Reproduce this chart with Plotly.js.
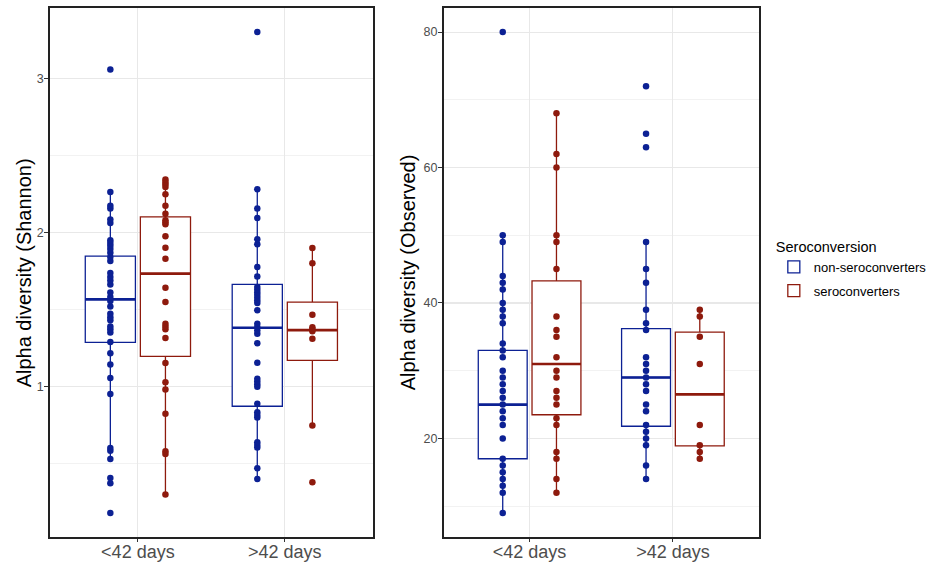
<!DOCTYPE html>
<html><head><meta charset="utf-8">
<script src="https://cdn.plot.ly/plotly-3.0.1.min.js"></script>
<style>html,body{margin:0;padding:0;background:#fff}#chart{width:932px;height:565px}</style>
</head><body><div id="chart"></div>
<script>
// ---------- data ----------
const categories = ['<42 days', '>42 days'];
const seriesNames = ['non-seroconverters', 'seroconverters'];
const yTitles = ['Alpha diversity (Shannon)', 'Alpha diversity (Observed)'];

// Shannon: individual samples
const shannonNonLt = [3.056, 2.262, 2.173, 2.154, 2.084, 2.061, 1.948, 1.931, 1.913, 1.892, 1.868, 1.840, 1.814, 1.736, 1.710, 1.688, 1.662, 1.610, 1.580, 1.554, 1.519, 1.472, 1.450, 1.429, 1.390, 1.372, 1.351, 1.288, 1.216, 1.143, 1.056, 0.952, 0.602, 0.584, 0.530, 0.406, 0.372, 0.180];
const shannonNonGt = [3.299, 2.279, 2.154, 2.093, 1.955, 1.922, 1.775, 1.714, 1.645, 1.628, 1.610, 1.593, 1.576, 1.558, 1.541, 1.494, 1.407, 1.385, 1.364, 1.342, 1.281, 1.154, 1.050, 1.032, 1.015, 0.998, 0.888, 0.833, 0.816, 0.799, 0.638, 0.621, 0.604, 0.470, 0.400];
const shannonSeroLt = [2.342, 2.327, 2.312, 2.294, 2.247, 2.173, 2.121, 2.078, 2.065, 2.052, 1.974, 1.900, 1.829, 1.641, 1.548, 1.407, 1.390, 1.372, 1.314, 1.152, 1.028, 0.981, 0.823, 0.580, 0.563, 0.299];
const shannonSeroGt = [1.898, 1.799, 1.466, 1.385, 1.372, 1.359, 1.310, 0.747, 0.379];

// Shannon: box statistics per category [<42, >42]
const shannonNonQ1 = [1.286, 0.872];
const shannonNonMed = [1.565, 1.381];
const shannonNonQ3 = [1.846, 1.662];
const shannonNonLo = [0.530, 0.400];
const shannonNonHi = [2.262, 2.279];
const shannonSeroQ1 = [1.195, 1.169];
const shannonSeroMed = [1.732, 1.366];
const shannonSeroQ3 = [2.100, 1.548];
const shannonSeroLo = [0.299, 0.747];
const shannonSeroHi = [2.342, 1.898];

// Observed: individual samples
const observedNonLt = [80, 50, 49, 44, 43, 42, 40, 39, 38, 37, 34, 33, 32, 30, 29, 28, 27, 26, 25, 24, 23, 22, 20, 17, 16, 15, 14, 13, 12, 9];
const observedNonGt = [72, 65, 63, 49, 45, 43, 39, 37, 36, 32, 31, 30, 29, 28, 27, 25, 24, 22, 21, 20, 19, 16, 14];
const observedSeroLt = [68, 62, 60, 50, 49, 45, 38, 36, 35, 32, 30, 29, 27, 26, 25, 23, 22, 18, 17, 14, 12];
const observedSeroGt = [39, 38, 35, 31, 22, 19, 18, 17];

// Observed: box statistics per category [<42, >42]
const observedNonQ1 = [17, 21.8];
const observedNonMed = [25, 29];
const observedNonQ3 = [33, 36.2];
const observedNonLo = [9, 14];
const observedNonHi = [50, 49];
const observedSeroQ1 = [23.5, 18.9];
const observedSeroMed = [31, 26.5];
const observedSeroQ3 = [43.25, 35.7];
const observedSeroLo = [12, 17];
const observedSeroHi = [68, 39];

// ---------- styling ----------
const BLUE = '#0c2194';
const RED = '#8e1a0d';
const FONT = 'Liberation Sans, Arial, Helvetica, sans-serif';

function statBox(xa, ya, name, color, q1, med, q3, lo, hi, showlegend) {
  return {type: 'box', x: categories, q1: q1, median: med, q3: q3, lowerfence: lo, upperfence: hi,
    name: name, legendgroup: name, offsetgroup: name, showlegend: showlegend, xaxis: xa, yaxis: ya,
    line: {color: color, width: 1.3}, fillcolor: 'white', boxpoints: false, whiskerwidth: 0, hoverinfo: 'skip'};
}
function medianBox(xa, ya, name, color, med) {
  return {type: 'box', x: categories, q1: med, median: med, q3: med, lowerfence: med, upperfence: med,
    name: name, legendgroup: name, offsetgroup: name, showlegend: false, xaxis: xa, yaxis: ya,
    line: {color: color, width: 2.6}, fillcolor: 'rgba(0,0,0,0)', boxpoints: false, whiskerwidth: 0, hoverinfo: 'skip'};
}
function pointBox(xa, ya, name, color, lt, gt) {
  const xs = lt.map(() => categories[0]).concat(gt.map(() => categories[1]));
  return {type: 'box', x: xs, y: lt.concat(gt), name: name, legendgroup: name, offsetgroup: name, showlegend: false,
    xaxis: xa, yaxis: ya, boxpoints: 'all', jitter: 0, pointpos: 0,
    line: {color: color, width: 0}, fillcolor: 'rgba(0,0,0,0)', whiskerwidth: 0,
    marker: {color: color, size: 6.5, line: {width: 0}}};
}

const traces = [
  statBox('x', 'y', seriesNames[0], BLUE, shannonNonQ1, shannonNonMed, shannonNonQ3, shannonNonLo, shannonNonHi, true),
  statBox('x', 'y', seriesNames[1], RED, shannonSeroQ1, shannonSeroMed, shannonSeroQ3, shannonSeroLo, shannonSeroHi, true),
  medianBox('x', 'y', seriesNames[0], BLUE, shannonNonMed),
  medianBox('x', 'y', seriesNames[1], RED, shannonSeroMed),
  pointBox('x', 'y', seriesNames[0], BLUE, shannonNonLt, shannonNonGt),
  pointBox('x', 'y', seriesNames[1], RED, shannonSeroLt, shannonSeroGt),
  statBox('x2', 'y2', seriesNames[0], BLUE, observedNonQ1, observedNonMed, observedNonQ3, observedNonLo, observedNonHi, false),
  statBox('x2', 'y2', seriesNames[1], RED, observedSeroQ1, observedSeroMed, observedSeroQ3, observedSeroLo, observedSeroHi, false),
  medianBox('x2', 'y2', seriesNames[0], BLUE, observedNonMed),
  medianBox('x2', 'y2', seriesNames[1], RED, observedSeroMed),
  pointBox('x2', 'y2', seriesNames[0], BLUE, observedNonLt, observedNonGt),
  pointBox('x2', 'y2', seriesNames[1], RED, observedSeroLt, observedSeroGt)
];

function xAxis(domain, anchor) {
  return {domain: domain, anchor: anchor, type: 'category', range: [-0.6, 1.6],
    showgrid: true, gridcolor: '#e8e8e8', gridwidth: 1.1, zeroline: false,
    showline: true, mirror: true, linecolor: '#222', linewidth: 1.6,
    ticks: 'outside', ticklen: 3, tickcolor: '#333', tickwidth: 1,
    ticklabelstandoff: -5,
    tickfont: {size: 18, color: '#4d4d4d', family: FONT}};
}
function yAxis(domain, anchor, range, dtick) {
  return {domain: domain, anchor: anchor, range: range, tick0: 0, dtick: dtick,
    showgrid: true, gridcolor: '#e8e8e8', gridwidth: 1.1, zeroline: false,
    minor: {dtick: dtick / 2, tick0: 0, showgrid: true, gridcolor: '#efefef', gridwidth: 0.8, ticks: ''},
    showline: true, mirror: true, linecolor: '#222', linewidth: 1.6,
    ticks: 'outside', ticklen: 4, tickcolor: '#333', tickwidth: 1,
    ticklabelstandoff: -2,
    tickfont: {size: 12.5, color: '#4d4d4d', family: FONT}};
}

const yDom = [28 / 565, 557 / 565];
function yTitle(text, xpx) {
  return {text: text, xref: 'paper', yref: 'paper', x: xpx / 932, y: (yDom[0] + yDom[1]) / 2,
    xanchor: 'center', yanchor: 'middle', textangle: -90, showarrow: false,
    font: {size: 20, color: '#000', family: FONT}};
}

const layout = {
  width: 932, height: 565, margin: {l: 0, r: 0, t: 0, b: 0},
  paper_bgcolor: 'white', plot_bgcolor: 'white',
  font: {family: FONT},
  boxmode: 'group', boxgap: 0.25, boxgroupgap: 0.09,
  xaxis: xAxis([50 / 932, 375 / 932], 'y'),
  yaxis: yAxis(yDom, 'x', [0.024, 3.455], 1),
  xaxis2: xAxis([446 / 932, 763 / 932], 'y2'),
  yaxis2: yAxis(yDom, 'x2', [5.45, 83.55], 20),
  annotations: [yTitle(yTitles[0], 24), yTitle(yTitles[1], 410)],
  showlegend: true,
  legend: {x: 778 / 932, xanchor: 'left', y: (565 - 233) / 565, yanchor: 'top',
    bgcolor: 'rgba(0,0,0,0)', tracegroupgap: 4,
    title: {text: 'Seroconversion', font: {size: 14.5, color: '#000', family: FONT}},
    font: {size: 13, color: '#000', family: FONT}}
};

Plotly.newPlot('chart', traces, layout, {displayModeBar: false, staticPlot: true});
</script>
</body></html>
